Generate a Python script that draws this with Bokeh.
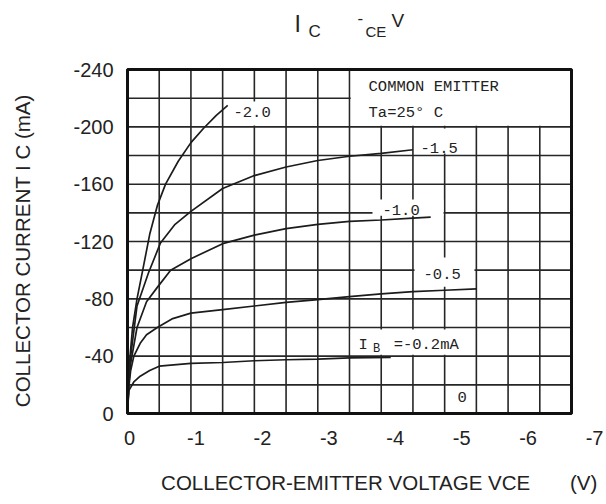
from bokeh.plotting import figure
from bokeh.models import Range1d, LinearAxis, FixedTicker, Label
from bokeh.embed import file_html
from bokeh.resources import INLINE

# ---------------- data ----------------
vce_ib0 = [0.0, -5.0]
ic_ib0 = [0.0, 0.0]

vce_ib02 = [0.0, -0.02, -0.1, -0.2, -0.35, -0.5, -1.0, -1.5, -2.0, -2.5, -3.0, -3.5, -4.15]
ic_ib02 = [0.0, -16, -22, -26, -30, -33, -35, -35.6, -36.8, -37.5, -38, -38.8, -39.2]

vce_ib05 = [0.0, -0.02, -0.05, -0.1, -0.2, -0.3, -0.47, -0.7, -1.0, -1.5, -2.0, -2.5, -3.0, -3.5, -4.0, -4.5, -5.0, -5.5]
ic_ib05 = [0.0, -18, -30, -40, -49, -55, -60, -66, -70, -72.5, -75, -77.5, -79.5, -81.5, -83.5, -85, -86, -87]

vce_ib10 = [0.0, -0.02, -0.05, -0.15, -0.3, -0.47, -0.68, -1.0, -1.5, -2.0, -2.5, -3.0, -3.5, -4.0, -4.5, -4.78]
ic_ib10 = [0.0, -20, -35, -60, -78, -88, -100, -108, -118.5, -124.5, -129, -132, -134, -135, -136.3, -137]

vce_ib15 = [0.0, -0.02, -0.05, -0.15, -0.33, -0.52, -0.75, -1.0, -1.5, -2.0, -2.5, -3.0, -3.5, -4.0, -4.5]
ic_ib15 = [0.0, -22, -40, -75, -98, -119, -132, -141, -157, -166, -172, -176.5, -179.5, -181.5, -184]

vce_ib20 = [0.0, -0.03, -0.08, -0.15, -0.24, -0.35, -0.47, -0.6, -0.8, -1.0, -1.2, -1.4, -1.58]
ic_ib20 = [0.0, -35, -60, -80, -100, -125, -145, -160, -176, -189, -199, -208, -215]

x_ticks = [0, -1, -2, -3, -4, -5, -6, -7]
x_tick_labels = ["0", "-1", "-2", "-3", "-4", "-5", "-6", "-7"]
y_ticks = [0, -40, -80, -120, -160, -200, -240]
y_tick_labels = ["0", "-40", "-80", "-120", "-160", "-200", "-240"]
grid_x = [0, -0.5, -1, -1.5, -2, -2.5, -3, -3.5, -4, -4.5, -5, -5.5, -6, -6.5, -7]
grid_y = [0, -20, -40, -60, -80, -100, -120, -140, -160, -180, -200, -220, -240]

# ---------------- figure ----------------
INK = "#1c1c1c"
p = figure(width=606, height=504,
           x_range=Range1d(0.0315, -7.520), y_range=Range1d(1.395, -288.15),
           output_backend="svg", toolbar_location=None, x_axis_location=None,
           min_border_left=125, min_border_right=2, min_border_top=0, min_border_bottom=89,
           outline_line_color=None, background_fill_color="white", border_fill_color="white")
p.grid.visible = False

# label axis (tick labels are drawn on a slightly wider scale in the reference)
p.extra_x_ranges = {"lab": Range1d(0.0602, -7.150)}
xax = LinearAxis(x_range_name="lab", ticker=FixedTicker(ticks=x_ticks),
                 major_label_overrides={t: s for t, s in zip(x_ticks, x_tick_labels)})
p.add_layout(xax, "below")

yax = p.yaxis[0]
for ax in (xax, yax):
    ax.axis_line_color = None
    ax.major_tick_line_color = None
    ax.minor_tick_line_color = None
    ax.major_tick_in = 0
    ax.major_tick_out = 0
    ax.major_label_text_font = "Liberation Sans"
    ax.major_label_text_font_size = "20px"
    ax.major_label_text_color = "#222222"
    ax.axis_label_text_font = "Liberation Sans"
    ax.axis_label_text_font_size = "20.5px"
    ax.axis_label_text_font_style = "normal"
    ax.axis_label_text_color = "#222222"
NB = "\u00a0"
xax.major_label_standoff = 15
xax.axis_label = NB * 5 + "COLLECTOR-EMITTER VOLTAGE VCE" + NB * 7 + "(V)"
xax.axis_label_standoff = 23

yax.ticker = FixedTicker(ticks=y_ticks)
yax.major_label_overrides = {t: s for t, s in zip(y_ticks, y_tick_labels)}
yax.major_label_standoff = 12
yax.axis_label = "COLLECTOR CURRENT I C (mA)" + NB * 15
yax.axis_label_standoff = 36

# grid lines
p.segment(x0=grid_x, y0=[grid_y[0]] * len(grid_x), x1=grid_x, y1=[grid_y[-1]] * len(grid_x),
          line_color="#262626", line_width=1.6)
p.segment(x0=[grid_x[0]] * len(grid_y), y0=grid_y, x1=[grid_x[-1]] * len(grid_y), y1=grid_y,
          line_color="#262626", line_width=1.6)

# white label boxes covering the grid
box_l = [-1.608, -3.52, -4.525, -3.862, -4.525, -3.516, -5.03]
box_r = [-2.412, -7.0, -5.47, -4.982, -5.47, -5.47, -5.47]
box_b = [-200.9, -200.7, -181.4, -138.0, -88.5, -41.0, -0.8]
box_t = [-217.7, -240.0, -198.8, -149.3, -108.8, -58.6, -18.8]
p.quad(left=box_l, right=box_r, bottom=box_b, top=box_t,
       fill_color="white", line_color=None)

# curves
for xs, ys in [(vce_ib0, ic_ib0), (vce_ib02, ic_ib02), (vce_ib05, ic_ib05),
               (vce_ib10, ic_ib10), (vce_ib15, ic_ib15), (vce_ib20, ic_ib20)]:
    p.line(xs, ys, line_color=INK, line_width=1.7)

# frame of the chart area
p.quad(left=[grid_x[0]], right=[grid_x[-1]], bottom=[grid_y[0]], top=[grid_y[-1]],
       fill_alpha=0, line_color="#111111", line_width=3)

def lab(x, y, t, size, font="Liberation Mono", color="#222222"):
    p.add_layout(Label(x=x, y=y, text=t, text_font=font, text_font_size=size,
                       text_baseline="middle", text_align="left", text_color=color))

MONO = "15.5px"
lab(-1.671, -210.7, "-2.0", MONO)
lab(-3.80, -227.8, "COMMON EMITTER", MONO)
lab(-3.80, -209.7, "Ta=25° C", MONO)
lab(-4.62, -185.2, "-1.5", MONO)
lab(-4.02, -142.0, "-1.0", MONO)
lab(-4.667, -97.0, "-0.5", MONO)
lab(-3.64, -48.1, "I", MONO)
lab(-3.87, -44.7, "B", "12px")
lab(-4.196, -48.1, "=-0.2mA", MONO)
lab(-5.203, -11.5, "0", MONO)

SANS = "Liberation Sans"
# title  (I_C - V_CE)
lab(-2.633, -271.5, "I", "23px", SANS)
lab(-2.854, -266.5, "C", "17px", SANS)
lab(-3.626, -276.0, "-", "17px", SANS)
lab(-3.752, -266.5, "CE", "15px", SANS)
lab(-4.162, -274.2, "V", "19px", SANS)

open("out.html", "w").write(file_html(p, INLINE))
